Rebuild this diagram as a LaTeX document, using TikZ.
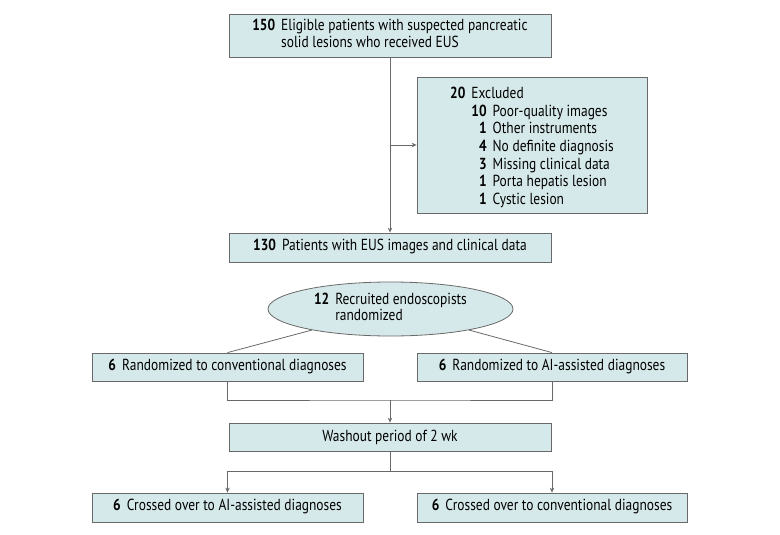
\documentclass[tikz,border=0pt]{standalone}
\usepackage{fontspec}
\setmainfont[FakeStretch=0.84]{PT Sans}
\usetikzlibrary{arrows.meta,shapes.geometric}
\definecolor{fondboite}{RGB}{214,233,234}
\definecolor{trait}{RGB}{105,105,105}
% nombre en gras suivi du texte
\newcommand{\nbtxt}[2]{\begin{tabular}{@{}r@{\hspace{6pt}}l@{}}\textbf{#1} & #2\end{tabular}}

\begin{document}
\begin{tikzpicture}[x=1pt,y=-1pt,
    boite/.style={draw=trait,fill=fondboite,line width=0.8pt,inner sep=0pt,
      minimum height=28pt,font=\fontsize{16}{16.5}\selectfont},
    ovale/.style={boite,ellipse},
    lien/.style={draw=trait,line width=0.8pt},
    fleche/.style={lien,-{Stealth[length=5pt,width=4.5pt]}}]
    \useasboundingbox (0,0) rectangle (780,535);

    % partie haute
    \node[boite,minimum width=322pt,minimum height=43pt] (eligibles) at (390,35.5)
      {\begin{tabular}{@{}r@{\hspace{6pt}}l@{}}\textbf{150} & Eligible patients with suspected pancreatic\\
        & solid lesions who received EUS\end{tabular}};
    \node[boite,minimum width=230pt,minimum height=136pt,font=\fontsize{16}{17.6}\selectfont] (exclus) at (532,145)
      {\begin{tabular}{@{}r@{\hspace{6pt}}r@{\hspace{6pt}}l@{}}
        \rule{0pt}{18.3pt}\textbf{20} & \multicolumn{2}{@{}l@{}}{Excluded}\\
        & \textbf{10} & Poor-quality images\\
        & \textbf{1} & Other instruments\\
        & \textbf{4} & No definite diagnosis\\
        & \textbf{3} & Missing clinical data\\
        & \textbf{1} & Porta hepatis lesion\\
        & \textbf{1} & Cystic lesion
      \end{tabular}};
    \node[boite,minimum width=322pt,minimum height=29pt] (patients) at (390,247.5)
      {\nbtxt{130}{Patients with EUS images and clinical data}};

    % randomisation
    \node[ovale,minimum width=245pt,minimum height=54pt] (endoscopistes) at (390.5,309)
      {\begin{tabular}{@{}r@{\hspace{6pt}}l@{}}\textbf{12} & Recruited endoscopists\\
        & randomized\end{tabular}};
    \node[boite,minimum width=271pt] (convA) at (227.5,367)
      {\nbtxt{6}{Randomized to conventional diagnoses}};
    \node[boite,minimum width=270pt] (iaA) at (552,367)
      {\nbtxt{6}{Randomized to AI-assisted diagnoses}};
    \node[boite,minimum width=322pt] (lavage) at (390,437) {Washout period of 2 wk};
    \node[boite,minimum width=271pt,minimum height=29pt] (iaB) at (227.5,507.5)
      {\nbtxt{6}{Crossed over to AI-assisted diagnoses}};
    \node[boite,minimum width=270pt,minimum height=29pt] (convB) at (552,507.5)
      {\nbtxt{6}{Crossed over to conventional diagnoses}};

    \coordinate (jonction) at (390,400);
    \coordinate (partage) at (390,471);

    % liens
    \draw[fleche] (eligibles.south) -- (patients.north);
    \draw[fleche] (eligibles.south |- exclus.west) -- (exclus.west);
    \draw[lien] (endoscopistes.195) -- (convA.north);
    \draw[lien] (endoscopistes.-15) -- (iaA.north);
    \draw[lien] (convA.south) |- (jonction) -| (iaA.south);
    \draw[fleche] (jonction) -- (lavage.north);
    \draw[lien] (lavage.south) -- (partage);
    \draw[fleche] (partage) -| (iaB.north);
    \draw[fleche] (partage) -| (convB.north);
\end{tikzpicture}
\end{document}
